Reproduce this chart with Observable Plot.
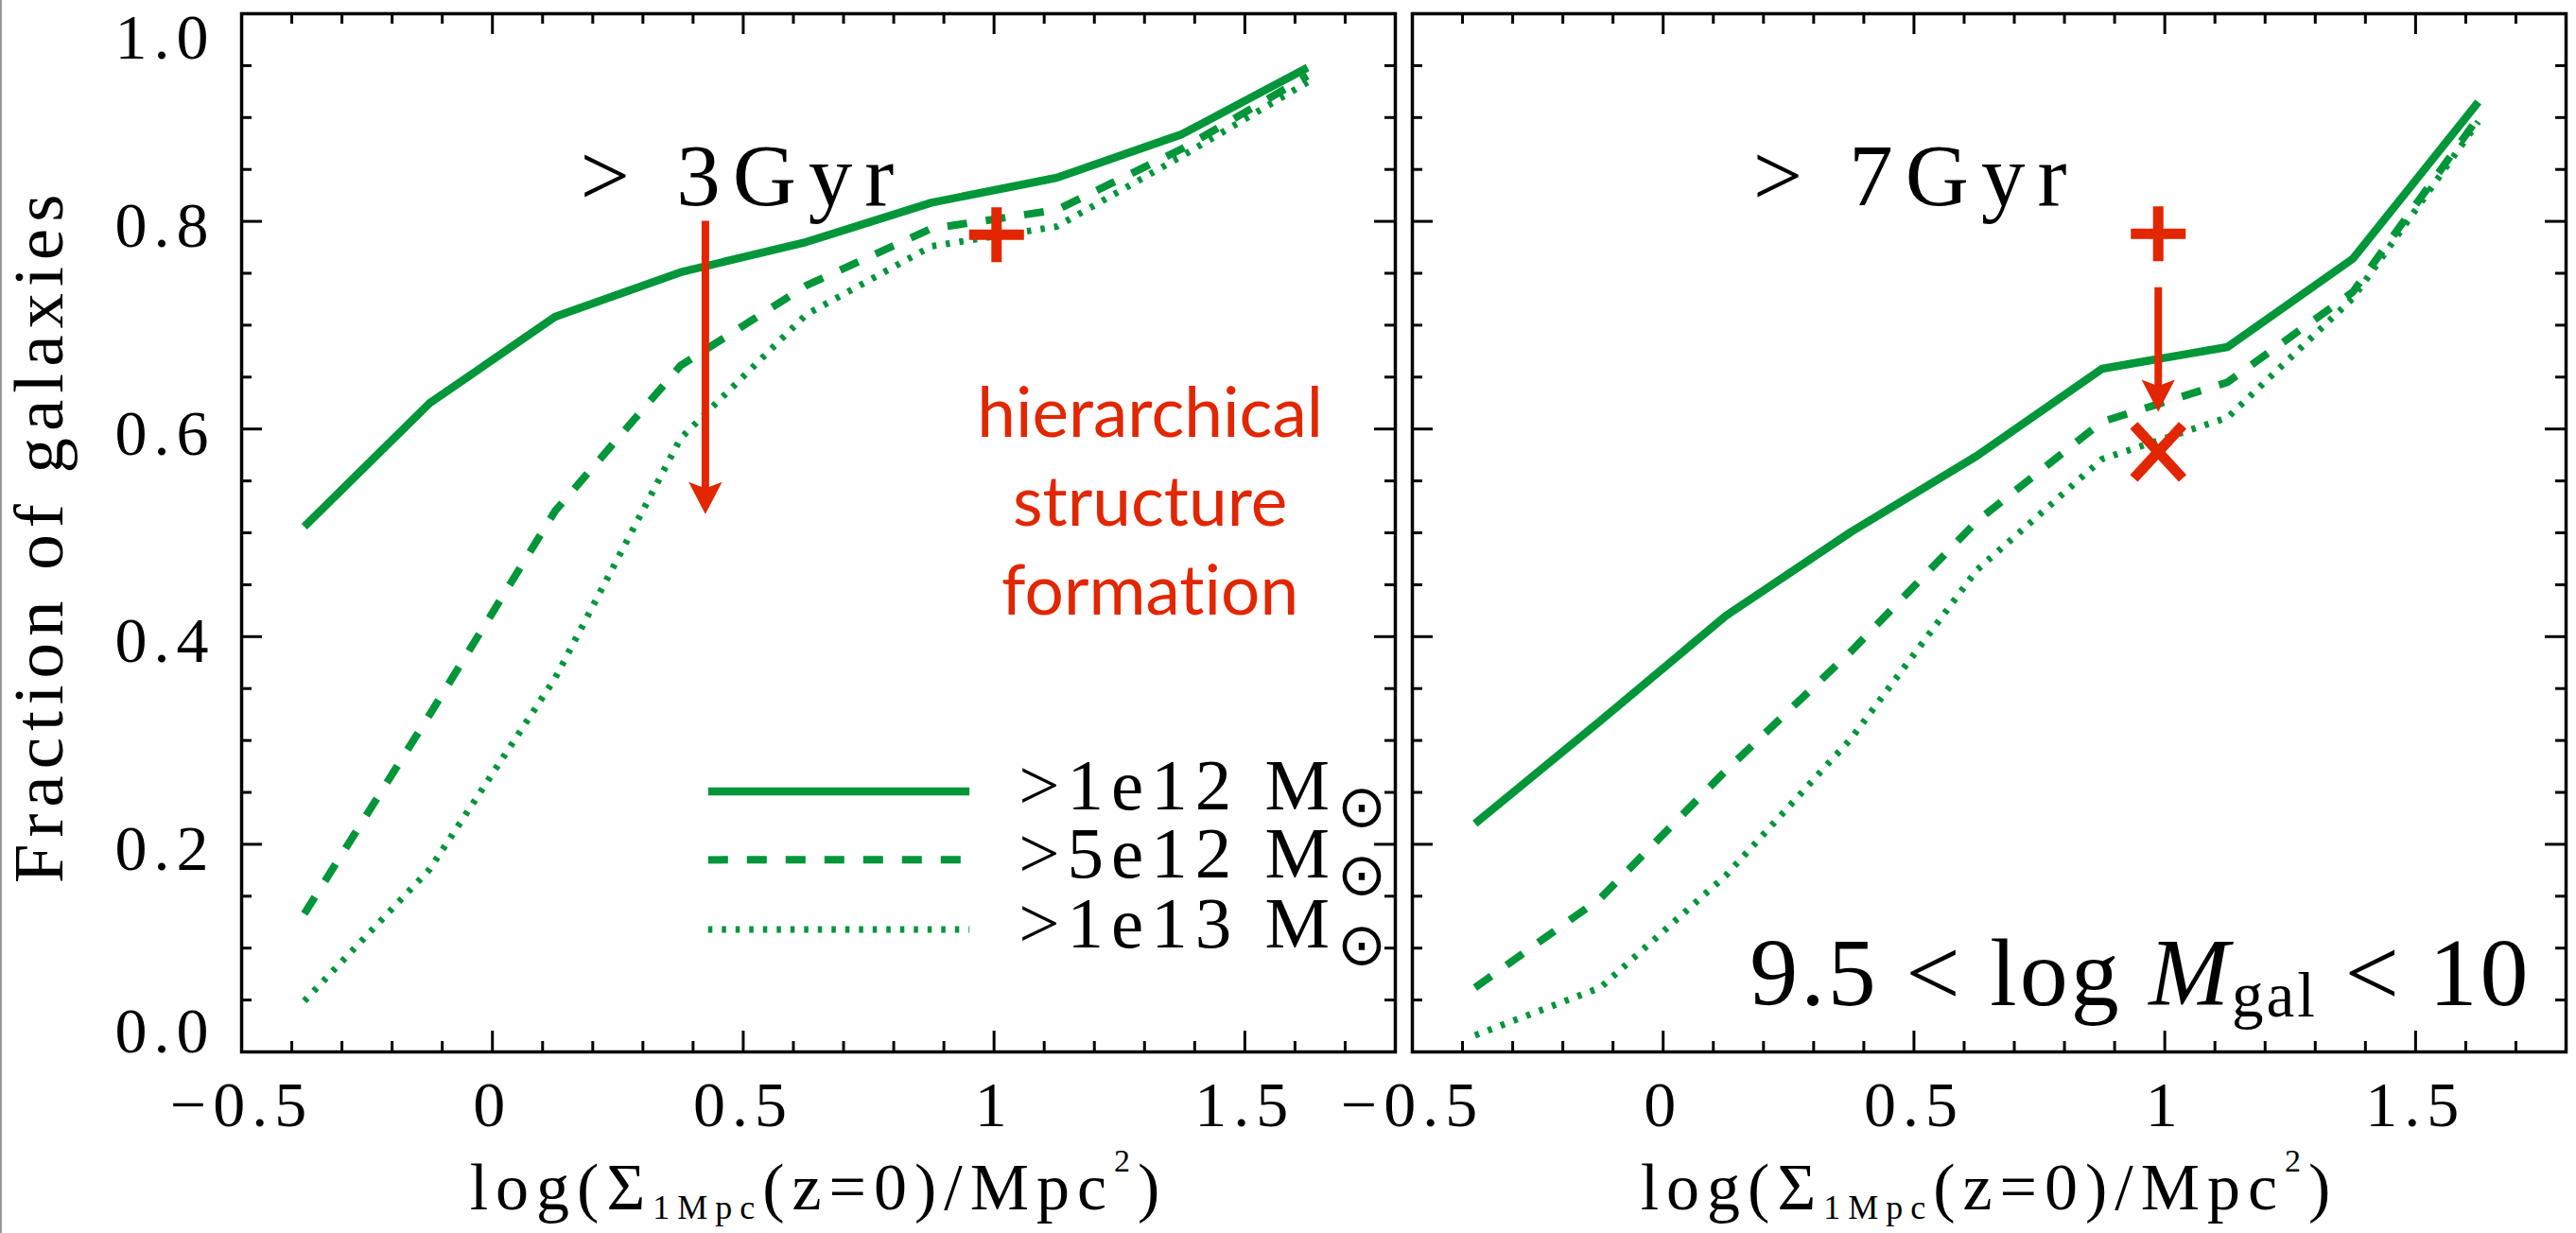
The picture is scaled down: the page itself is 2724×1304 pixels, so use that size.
<!DOCTYPE html>
<html>
<head>
<meta charset="utf-8">
<script src="https://cdn.jsdelivr.net/npm/d3@7"></script>
<script src="https://cdn.jsdelivr.net/npm/@observablehq/plot@0.6"></script>
<style>
html, body { margin: 0; padding: 0; background: #fff; }
#chart { position: relative; width: 2724px; height: 1304px; overflow: hidden; background: #fff; }
#edge { position: absolute; left: 0; top: 0; width: 2px; height: 1304px; background: #9a9a9a; }
#chart svg { overflow: visible; position: absolute; left: 0; top: 0; }
#chart svg text { font-variant-ligatures: none; }
g[aria-description="x-tick-labels"] text, g[aria-description^="y-tick-labels"] text { letter-spacing: 7px; }
g[aria-description="x-title"] text { letter-spacing: 8px; }
g[aria-description="y-title"] text { letter-spacing: 7px; }
g[aria-description="legend-labels"] text { letter-spacing: 8px; }
g[aria-description="age-labels"] text { letter-spacing: 13px; }
g[aria-description="mass-label"] text { letter-spacing: 3px; }
</style>
</head>
<body>
<div id="chart"><div id="edge"></div></div>
<script>
// ---------------- data ----------------
const densityX = [-0.375, -0.125, 0.125, 0.375, 0.625, 0.875, 1.125, 1.375, 1.625];
const panels = ["> 3Gyr", "> 7Gyr"];
const haloSeries = [">1e12 M⊙", ">5e12 M⊙", ">1e13 M⊙"];

const frac3Gyr_1e12 = [0.506, 0.625, 0.708, 0.751, 0.780, 0.818, 0.842, 0.884, 0.948];
const frac3Gyr_5e12 = [0.133, 0.325, 0.521, 0.661, 0.738, 0.793, 0.811, 0.870, 0.940];
const frac3Gyr_1e13 = [0.049, 0.176, 0.360, 0.591, 0.710, 0.776, 0.795, 0.863, 0.934];

const frac7Gyr_1e12 = [0.220, 0.319, 0.420, 0.501, 0.574, 0.658, 0.679, 0.764, 0.915];
const frac7Gyr_5e12 = [0.062, 0.148, 0.271, 0.386, 0.511, 0.607, 0.645, 0.732, 0.900];
const frac7Gyr_1e13 = [0.016, 0.062, 0.170, 0.302, 0.464, 0.571, 0.611, 0.726, 0.896];

// red annotation values
const plusX = [1.005, 0.987];
const plusY = [0.787, 0.788];
const arrowX = [0.4245, 0.987];
const arrowFrom = [0.800, 0.736];
const arrowTo = [0.518, 0.6166];
const crossX = [0.987];
const crossY = [0.578];

// ticks
const xTickValues = [-0.5, 0, 0.5, 1, 1.5];
const xTickLabels = ["−0.5", "0", "0.5", "1", "1.5"];
const xMinorTicks = [-0.4, -0.3, -0.2, -0.1, 0.1, 0.2, 0.3, 0.4, 0.6, 0.7, 0.8, 0.9, 1.1, 1.2, 1.3, 1.4, 1.6, 1.7];
const yTickValues = [0, 0.2, 0.4, 0.6, 0.8, 1.0];
const yTickLabels = ["0.0", "0.2", "0.4", "0.6", "0.8", "1.0"];
const yMinorTicks = [0.05, 0.1, 0.15, 0.25, 0.3, 0.35, 0.45, 0.5, 0.55, 0.65, 0.7, 0.75, 0.85, 0.9, 0.95];

// texts
const xTitle = "log(Σ1Mpc(z=0)/Mpc2)";
const yTitle = "Fraction of galaxies";
const massLabel = "9.5 < log Mgal < 10";
const redNote = "hierarchical\nstructure\nformation";

// ---------------- layout / style ----------------
const W = 2724, H = 1304;
const mL = 255, mR = 11, mT = 14, mB = 192;
const frameH = H - mT - mB;
const facetGap = 18;
const facetW = (W - mL - mR - facetGap) / 2;
const GREEN = "#009639", RED = "#e22600", INK = "#000";
const SERIF = "'Liberation Serif', 'DejaVu Serif', serif";
const SANS = "Lato, 'Open Sans', sans-serif";

const lineStyle = [
  {strokeWidth: 8.5},
  {strokeWidth: 8, strokeDasharray: "21 20"},
  {strokeWidth: 7, strokeDasharray: "4.5 10"}
];
const layout = {
  legendX1: 0.430, legendX2: 0.951, legendTextX: 1.049, legendY: [0.2508, 0.185, 0.118],
  ageX: [0.50, 0.504], ageY: 0.816,
  noteX: 1.311, noteY: 0.4208
};

// ---------------- tables ----------------
const seriesByPanel = [
  [frac3Gyr_1e12, frac3Gyr_5e12, frac3Gyr_1e13],
  [frac7Gyr_1e12, frac7Gyr_5e12, frac7Gyr_1e13]
];
const rows = [];
panels.forEach((p, pi) => seriesByPanel[pi].forEach((vals, k) =>
  vals.forEach((v, i) => rows.push({panel: p, k, x: densityX[i], y: v}))));

const legendRows = haloSeries.map((h, k) => ({panel: panels[0], k, label: h, y: layout.legendY[k]}));
const arrowRows = arrowX.map((x, i) => ({panel: panels[i], x, from: arrowFrom[i], to: arrowTo[i]}));
const plusRows = plusX.map((x, i) => ({panel: panels[i], x, y: plusY[i]}));
const crossRows = crossX.map((x, i) => ({panel: panels[1], x, y: crossY[i]}));
const ageRows = panels.map((p, i) => ({panel: p, x: layout.ageX[i], y: layout.ageY}));
const xLabelRows = xTickValues.map((v, i) => ({v, label: xTickLabels[i]}));
const yLabelRows = yTickValues.map((v, i) => ({panel: panels[0], v, label: yTickLabels[i]}));

// ---------------- symbols ----------------
const plusSymbol = {draw(ctx, size) { const r = Math.sqrt(size / Math.PI);
  ctx.moveTo(-r, 0); ctx.lineTo(r, 0); ctx.moveTo(0, -r); ctx.lineTo(0, r); }};
const crossSymbol = {draw(ctx, size) { const r = Math.sqrt(size / Math.PI);
  ctx.moveTo(-0.92 * r, -r); ctx.lineTo(0.92 * r, r); ctx.moveTo(-0.92 * r, r); ctx.lineTo(0.92 * r, -r); }};
const headSymbol = {draw(ctx, size) { const r = Math.sqrt(size / Math.PI);
  ctx.moveTo(0, 0); ctx.lineTo(-0.52 * r, -r); ctx.lineTo(0, -0.8 * r); ctx.lineTo(0.52 * r, -r); ctx.closePath(); }};

const tick = {stroke: INK, strokeWidth: 3};
const majorY = yTickValues.filter(v => v > 0 && v < 1);

const marks = [
  // inward ticks on all four sides
  Plot.ruleX(xTickValues.slice(1), {...tick, insetTop: frameH - 22}),
  Plot.ruleX(xTickValues.slice(1), {...tick, insetBottom: frameH - 22}),
  Plot.ruleX(xMinorTicks, {...tick, insetTop: frameH - 11}),
  Plot.ruleX(xMinorTicks, {...tick, insetBottom: frameH - 11}),
  Plot.ruleY(majorY, {...tick, insetRight: facetW - 22}),
  Plot.ruleY(majorY, {...tick, insetLeft: facetW - 22}),
  Plot.ruleY(yMinorTicks, {...tick, insetRight: facetW - 11}),
  Plot.ruleY(yMinorTicks, {...tick, insetLeft: facetW - 11}),
  Plot.frame({stroke: INK, strokeWidth: 3.5}),

  // curves
  ...haloSeries.map((h, k) => Plot.line(rows.filter(d => d.k === k), {
    fx: "panel", x: "x", y: "y", stroke: GREEN, strokeLinecap: "butt", strokeLinejoin: "miter", ...lineStyle[k]
  })),

  // legend
  ...haloSeries.map((h, k) => Plot.link(legendRows.filter(d => d.k === k), {
    fx: "panel", x1: () => layout.legendX1, x2: () => layout.legendX2, y1: "y", y2: "y",
    stroke: GREEN, strokeLinecap: "butt", ...lineStyle[k]
  })),
  Plot.text(legendRows, {
    fx: "panel", x: () => layout.legendTextX, y: "y", text: "label", ariaDescription: "legend-labels",
    textAnchor: "start", lineAnchor: "bottom", dy: 19, fontSize: 77, fontFamily: SERIF, fill: INK
  }),

  // panel labels
  Plot.text(ageRows, {
    fx: "panel", x: "x", y: "y", text: "panel", ariaDescription: "age-labels",
    lineAnchor: "bottom", fontSize: 93, fontFamily: SERIF, fill: INK
  }),

  // red annotations
  Plot.ruleX(arrowRows, {fx: "panel", x: "x", y1: "from", y2: "to", insetBottom: 24, stroke: RED, strokeWidth: 8}),
  Plot.dot(arrowRows, {fx: "panel", x: "x", y: "to", symbol: headSymbol, r: 34, fill: RED, stroke: "none"}),
  Plot.dot(plusRows, {fx: "panel", x: "x", y: "y", symbol: plusSymbol, r: 29, fill: "none", stroke: RED, strokeWidth: 11, strokeLinecap: "butt"}),
  Plot.dot(crossRows, {fx: "panel", x: "x", y: "y", symbol: crossSymbol, r: 28, fill: "none", stroke: RED, strokeWidth: 11, strokeLinecap: "butt"}),
  Plot.text([{panel: panels[0], note: redNote}], {
    fx: "panel", x: () => layout.noteX, y: () => layout.noteY, text: "note", ariaDescription: "red-note",
    lineAnchor: "bottom", lineHeight: 1.29, fontSize: 73, fontFamily: SANS, fill: RED
  }),

  // mass range label
  Plot.text([{panel: panels[1], label: massLabel}], {
    fx: "panel", text: "label", ariaDescription: "mass-label", frameAnchor: "bottom-right",
    textAnchor: "end", lineAnchor: "bottom", dx: -37, dy: -50, fontSize: 102, fontFamily: SERIF, fill: INK
  }),

  // tick labels
  Plot.text(xLabelRows, {x: "v", text: "label", ariaDescription: "x-tick-labels", frameAnchor: "bottom",
    textAnchor: "middle", lineAnchor: "bottom", dy: 78, fontSize: 68, fontFamily: SERIF, fill: INK}),
  Plot.text(yLabelRows.filter(d => d.v > 0 && d.v < 1), {fx: "panel", y: "v", text: "label", ariaDescription: "y-tick-labels-mid",
    frameAnchor: "left", textAnchor: "end", lineAnchor: "bottom", dx: -28, dy: 27, fontSize: 68, fontFamily: SERIF, fill: INK}),
  Plot.text(yLabelRows.filter(d => d.v === 1), {fx: "panel", y: "v", text: "label", ariaDescription: "y-tick-labels-top",
    frameAnchor: "left", textAnchor: "end", lineAnchor: "bottom", dx: -28, dy: 47, fontSize: 68, fontFamily: SERIF, fill: INK}),
  Plot.text(yLabelRows.filter(d => d.v === 0), {fx: "panel", y: "v", text: "label", ariaDescription: "y-tick-labels-bottom",
    frameAnchor: "left", textAnchor: "end", lineAnchor: "bottom", dx: -28, dy: 0, fontSize: 68, fontFamily: SERIF, fill: INK}),

  // axis titles
  Plot.text([xTitle], {text: d => d, ariaDescription: "x-title", frameAnchor: "bottom", textAnchor: "middle",
    lineAnchor: "bottom", dy: 166, fontSize: 70, fontFamily: SERIF, fill: INK}),
  Plot.text([{panel: panels[0], t: yTitle}], {fx: "panel", text: "t", ariaDescription: "y-title", frameAnchor: "left",
    textAnchor: "middle", rotate: -90, lineAnchor: "bottom", dx: -190, dy: 3, fontSize: 75, fontFamily: SERIF, fill: INK})
];

const chart = Plot.plot({
  width: W, height: H,
  marginLeft: mL, marginRight: mR, marginTop: mT, marginBottom: mB,
  x: {domain: [-0.5, 1.8], axis: null},
  y: {domain: [0, 1], axis: null},
  fx: {domain: panels, axis: null, paddingInner: facetGap / (facetW + facetGap), paddingOuter: 0, round: false},
  style: {background: "transparent", overflow: "visible"},
  marks
});
document.getElementById("chart").appendChild(chart);

// ---------------- rich text (sub/superscripts) ----------------
function rich(selector, parts) {
  d3.select(chart).selectAll(selector).each(function () {
    const t = d3.select(this);
    t.text(null);
    for (const p of parts) {
      const s = t.append("tspan").text(p.t);
      if (p.size) s.attr("font-size", p.size);
      if (p.dy) s.attr("dy", p.dy);
      if (p.italic) s.attr("font-style", "italic");
      if (p.family) s.attr("font-family", p.family);
      if (p.ls !== undefined) s.style("letter-spacing", p.ls + "px");
    }
  });
}
rich('g[aria-description="x-title"] text', [
  {t: "log(Σ"}, {t: "1Mpc", size: 36, dy: 10}, {t: "(z=0)/Mpc", dy: -10},
  {t: "2", size: 34, dy: -40}, {t: ")", dy: 40}
]);
d3.select(chart).selectAll('g[aria-description="legend-labels"] text').each(function () {
  const t = d3.select(this); const s = t.text();
  t.text(null);
  t.append("tspan").text(s.slice(0, -1));
  t.append("tspan").text(s.slice(-1)).attr("font-size", 62).attr("dy", 18)
    .attr("font-family", "'DejaVu Sans', sans-serif").style("letter-spacing", "0px");
});
rich('g[aria-description="mass-label"] text', [
  {t: "9.5 < log "}, {t: "M", italic: true}, {t: "gal", size: 67, dy: 12}, {t: " < 10", dy: -12}
]);
</script>
</body>
</html>
